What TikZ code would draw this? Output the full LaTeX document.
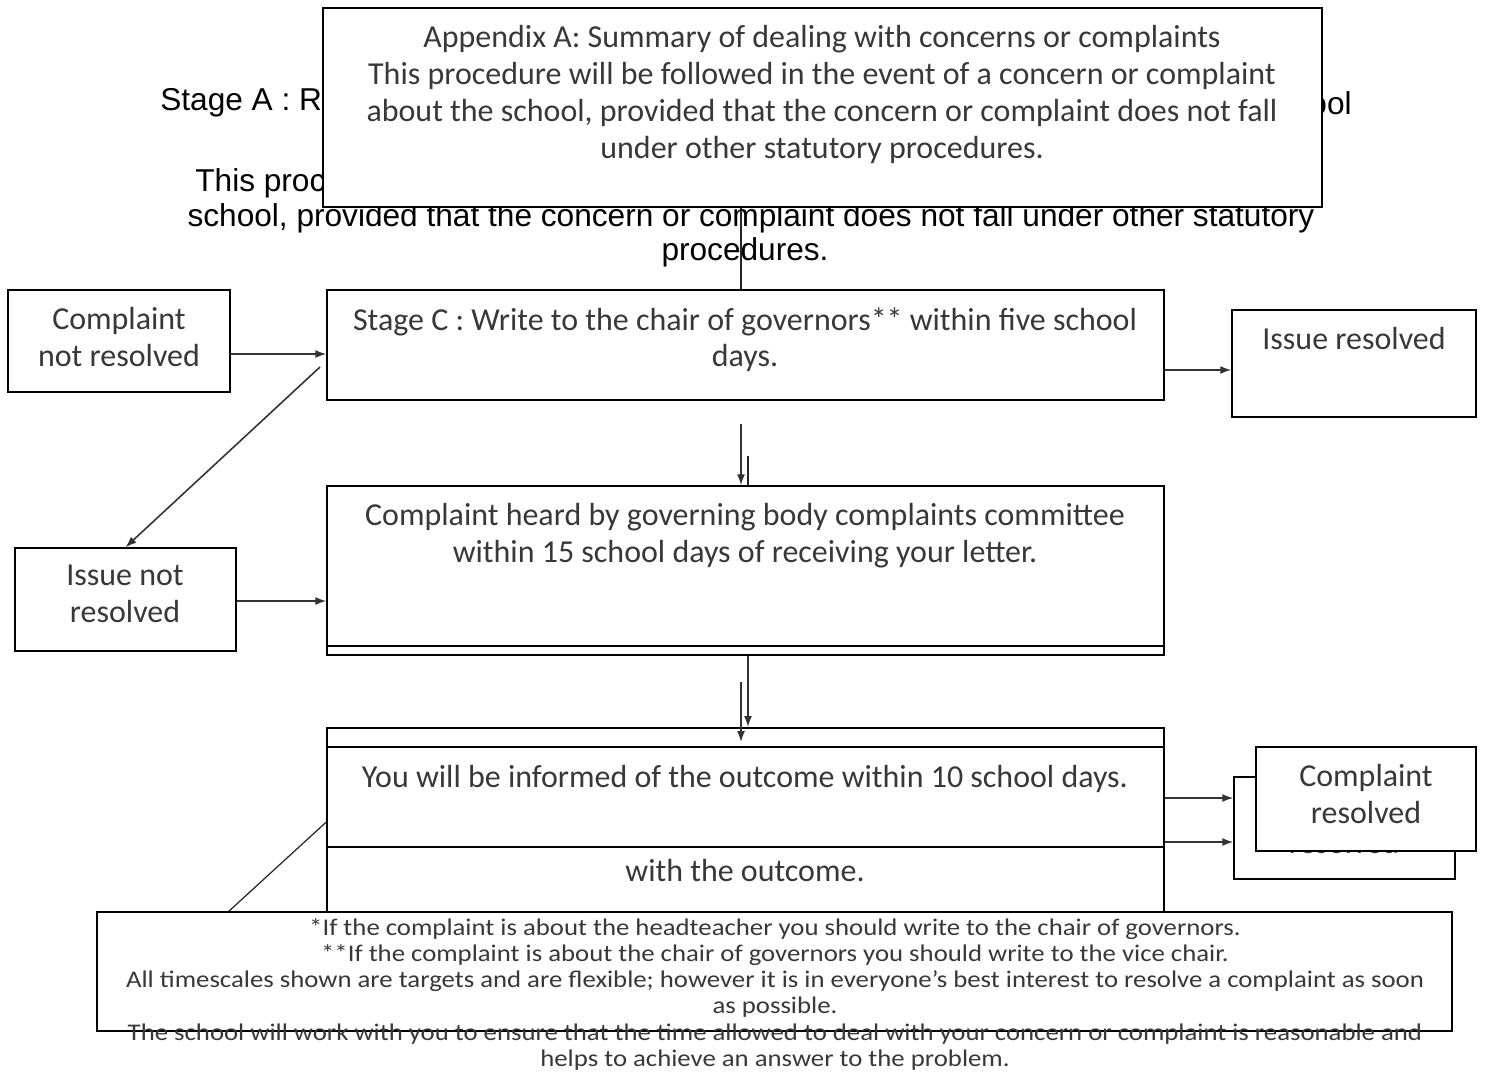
\documentclass[tikz,border=0pt]{standalone}
\usepackage{fontspec}
\setmainfont{Carlito}
\newfontfamily\arialfont{Liberation Sans}
\newfontfamily\notefont[FakeStretch=1.12]{Carlito}
\usetikzlibrary{arrows.meta,fit,positioning}

\begin{document}
\begin{tikzpicture}[x=0.02cm,y=-0.02cm,
  box/.style={draw,fill=white,line width=0.8pt,inner sep=0pt},
  boxtext/.style={align=center,text=black!78,font=\fontsize{18.2}{21}\selectfont,inner sep=0pt},
  notetext/.style={align=center,text=black!78,font=\notefont\fontsize{13.6}{14.9}\selectfont,inner sep=0pt},
  bgtext/.style={font=\arialfont\fontsize{18}{19.5}\selectfont,inner sep=0pt},
  arr/.style={line width=0.9pt,draw=black!80,-{Latex[length=2.2mm,width=1.6mm]}},
  link/.style={line width=0.7pt,draw=black!85}]
\useasboundingbox (0,0) rectangle (1485,1073);

% text of the layer underneath
\node[bgtext,anchor=west] (stagea) at (160,103) {Stage A : R};
\node[bgtext,anchor=east] (stageaend) at (1352,103) {ool};
\node[bgtext,anchor=west] (bgproc) at (195,183) {This procedure will be followed in the event of a concern or complaint about the};
\node[bgtext] (bgschool) at (751,218) {school, provided that the concern or complaint does not fall under other statutory};
\node[bgtext] (bgprocend) at (745,252) {procedures.};

% heading
\node[box,fit={(323,8) (1322,207)}] (appendix) {};
\node[boxtext,anchor=north] (appendixtxt) at (822,25) {Appendix A: Summary of dealing with concerns or complaints\\
This procedure will be followed in the event of a concern or complaint\\
about the school, provided that the concern or complaint does not fall\\
under other statutory procedures.};

% stage C row
\node[box,fit={(8,290) (230,392)}] (cnr) {};
\node[boxtext,anchor=north] (cnrtxt) at (119,307) {Complaint\\not resolved};
\node[box,fit={(327,290) (1164,400)}] (stagec) {};
\node[boxtext,anchor=north] (stagectxt) at (745,307) {Stage C : Write to the chair of governors** within five school\\days.};
\node[box,fit={(1232,310) (1476,417)}] (ires) {};
\node[boxtext,anchor=north] (irestxt) at (1354,327) {Issue resolved};

% hearing row
\node[box,fit={(327,493) (1164,655)}] (heardback) {};
\node[box,fit={(327,486) (1164,646)}] (heard) {};
\node[boxtext,anchor=north] (heardtxt) at (745,503) {Complaint heard by governing body complaints committee\\within 15 school days of receiving your letter.};
\node[box,fit={(15,548) (236,651)}] (inr) {};
\node[boxtext,anchor=north] (inrtxt) at (125,565) {Issue not\\resolved};

% outcome row
\node[box,fit={(327,728) (1164,912)}] (staged) {};
\node[boxtext,anchor=north] (stagedtxt) at (745,859) {with the outcome.};
\node[box,fit={(327,747) (1164,847)}] (outcome) {};
\node[boxtext,anchor=north] (outcometxt) at (745,765) {You will be informed of the outcome within 10 school days.};
\node[box,fit={(1234,777) (1455,879)}] (cresback) {};
\node[boxtext,anchor=north] (crestxtback) at (1344,794) {Complaint\\resolved};
\node[box,fit={(1256,747) (1476,851)}] (cres) {};
\node[boxtext,anchor=north] (crestxt) at (1366,764) {Complaint\\resolved};

% connectors
\coordinate (dstart) at (320,367);
\coordinate (dend) at (228,912);
\draw[link] (appendix.south -| 741,0) -- (stagec.north -| 741,0);
\draw[arr] (cnr.east |- 0,354) -- (stagec.west |- 0,354);
\draw[arr] (stagec.east |- 0,370) -- (ires.west |- 0,370);
\draw[arr] (dstart) -- (inr.north);
\draw[arr] (741,424) -- (heard.north -| 741,0);
\draw[link] (748,456) -- (heard.north -| 748,0);
\draw[arr] (inr.east |- 0,601) -- (heard.west |- 0,601);
\draw[arr] (heardback.south -| 748,0) -- (748,727);
\draw[arr] (741,682) -- (741,742);
\draw[arr] (outcome.east |- 0,798) -- (cresback.west |- 0,798);
\draw[arr] (outcome.east |- 0,842) -- (cresback.west |- 0,842);
\draw[link] (outcome.west |- 0,822) -- (dend);

% notes at the foot
\node[box,fit={(97,912) (1452,1031)}] (notes) {};
\node[notetext,anchor=north] (notestxt) at (775,918) {*If the complaint is about the headteacher you should write to the chair of governors.\\
**If the complaint is about the chair of governors you should write to the vice chair.\\
All timescales shown are targets and are flexible; however it is in everyone’s best interest to resolve a complaint as soon\\
as possible.\\
The school will work with you to ensure that the time allowed to deal with your concern or complaint is reasonable and\\
helps to achieve an answer to the problem.};
\end{tikzpicture}
\end{document}
